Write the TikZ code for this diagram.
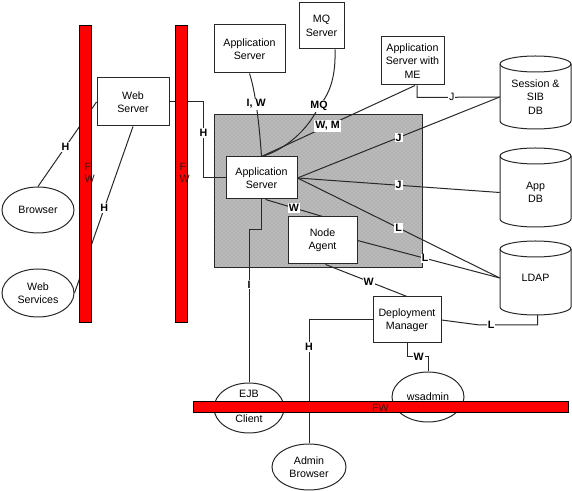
\documentclass[tikz,border=0pt]{standalone}
\usepackage{fontspec}
\setmainfont{Liberation Sans}
\usetikzlibrary{shapes.geometric,calc,patterns}
\definecolor{lin}{RGB}{40,40,40}
\definecolor{shade}{RGB}{178,178,178}
\definecolor{dotc}{RGB}{215,215,215}
\definecolor{fwred}{RGB}{255,0,0}
\definecolor{fwtext}{RGB}{60,20,20}
\newcommand{\dbcyl}[3]{%
  \draw[draw=lin, line width=0.75pt, fill=white] (#1-35.5,#2) -- (#1-35.5,#3)
    arc[start angle=180, end angle=0, x radius=35.5, y radius=8] -- (#1+35.5,#2)
    arc[start angle=0, end angle=-180, x radius=35.5, y radius=8] -- cycle;
  \draw[draw=lin, line width=0.75pt] (#1-35.5,#2) arc[start angle=180, end angle=0, x radius=35.5, y radius=8];}
\begin{document}
\begin{tikzpicture}[x=0.75pt, y=-0.75pt,
  font=\fontsize{8}{10}\selectfont,
  box/.style={draw=lin, line width=0.75pt, fill=white, align=center, inner sep=1pt},
  oval/.style={ellipse, draw=lin, line width=0.75pt, fill=white, align=center, inner sep=0pt},
  conn/.style={draw=lin, line width=0.75pt},
  lbl/.style={fill=white, inner sep=0.8pt, font=\fontsize{8}{10}\selectfont\bfseries},
  plainlbl/.style={fill=white, inner sep=0.8pt},
  fwbar/.style={draw=black, line width=0.75pt, fill=fwred, inner sep=0pt, text=fwtext},
  fwtxt/.style={align=left, inner sep=1pt, text=fwtext, font=\fontsize{8}{9}\selectfont},
  dbtext/.style={align=center, inner sep=0pt, minimum width=53.25pt}
]
\useasboundingbox (0,0) rectangle (572,491);

% shaded cell
\node (gray) [draw=lin, line width=0.75pt, preaction={fill=shade}, pattern=crosshatch dots, pattern color=dotc,
  minimum width=156pt, minimum height=114.75pt] at (318,191.5) {};

% boxes
\node (websrv) [box, minimum width=54pt, minimum height=36pt] at (133,102) {Web\\Server};
\node (appsrvtop) [box, minimum width=53.25pt, minimum height=36pt] at (249.5,49) {Application\\Server};
\node (mq) [box, minimum width=33.75pt, minimum height=34.5pt] at (321.5,26) {MQ\\Server};
\node (appme) [box, minimum width=47.25pt, minimum height=36pt] at (412.5,61) {Application\\Server with\\ME};
\node (appsrv) [box, minimum width=53.25pt, minimum height=31.5pt] at (261.5,178) {Application\\Server};
\node (nodeagent) [box, minimum width=51.75pt, minimum height=35.25pt] at (322.5,240.5) {Node\\Agent};
\node (dm) [box, minimum width=51pt, minimum height=34.5pt] at (407,320) {Deployment\\Manager};

% ellipses
\node (browser) [oval, minimum width=54pt, minimum height=34.5pt] at (38,210) {Browser};
\node (websvc) [oval, minimum width=54pt, minimum height=36pt] at (38,293) {Web\\Services};
\node (ejb) [oval, minimum width=52.5pt, minimum height=37.5pt] at (249,408) {};
\node (ejbtext) [align=center, inner sep=0pt] at (249,406) {EJB\\[8.75pt]Client};
\node (wsadmin) [oval, minimum width=54pt, minimum height=37.5pt, text depth=-1.5pt] at (428,397) {wsadmin};
\node (adminbr) [oval, minimum width=55.5pt, minimum height=34.5pt] at (309,467) {Admin\\Browser};

% databases
\dbcyl{535.5}{64}{121}
\dbcyl{535.5}{156}{219}
\dbcyl{535.5}{249}{307}
\node (sess) [dbtext] at (535.5,97) {Session \&\\SIB\\DB};
\node (appdb) [dbtext] at (535.5,192.5) {App\\DB};
\node (ldap) [dbtext] at (535.5,278) {LDAP};

% connectors
\draw[conn] (browser.north) -- node[lbl, pos=0.47]{H} (websrv.west);
\draw[conn] (websrv.south) -- node[lbl, pos=0.49]{H} (websvc.east);
\draw[conn] (websrv.east) -- ++(34,0) -- node[lbl, pos=0.41]{H} ++(0,76) -- (appsrv.west);
\draw[conn] (appsrvtop.south) .. controls (255,90) and (259,120) .. node[lbl, pos=0.46]{I, W} (appsrv.north);
\draw[conn] ($(mq.south)+(13.5,0)$) .. controls (336,80) and (328,96) .. (319,106) node[lbl]{MQ}
  .. controls (308,130) and (285,150) .. (appsrv.north);
\draw[conn] (appsrv.north) -- node[lbl, pos=0.43]{W, M} ($(appme.south)+(2.5,0)$);
\draw[conn] ($(appme.south)+(4.5,0)$) -- ++(0,12) -- node[plainlbl, pos=0.42]{J} (sess.west);
\draw[conn] (appsrv.east) -- node[lbl]{J} (sess.west);
\draw[conn] (appsrv.east) -- node[lbl]{J} (appdb.west);
\draw[conn] (appsrv.east) -- node[lbl]{L} (ldap.west);
\draw[conn] ($(appsrv.south)+(4,0)$) -- node[lbl]{W} (nodeagent.north);
\draw[conn] (nodeagent.east) -- node[lbl, pos=0.475]{L} (ldap.west);
\draw[conn] (appsrv.south) -- ++(0,30) -| node[lbl, pos=0.68]{I} (ejb.north);
\draw[conn] ($(nodeagent.south)+(3,0)$) -- node[lbl, pos=0.53]{W} (dm.north);
\draw[conn] (dm.west) -| node[lbl, pos=0.61]{H} (adminbr.north);
\draw[conn] (dm.south) -- ++(0,13) -| node[lbl, pos=0.28]{W} (wsadmin.north);
\draw[conn] (dm.east) -- ++(38,5) -| node[lbl, pos=0.1]{L} ($(ldap.center)+(2,37)$);

% firewalls
\node (fw1) [fwbar, minimum width=9pt, minimum height=222.75pt] at (85,174.5) {};
\node (fw2) [fwbar, minimum width=9pt, minimum height=222.75pt] at (181,174.5) {};
\node (fw3) [fwbar, minimum width=281.25pt, minimum height=8.25pt] at (380.5,407.5) {FW};
\node (fw1t) [fwtxt, anchor=west] at (83,173) {F\\W};
\node (fw2t) [fwtxt, anchor=west] at (178,173) {F\\W};
\end{tikzpicture}
\end{document}
